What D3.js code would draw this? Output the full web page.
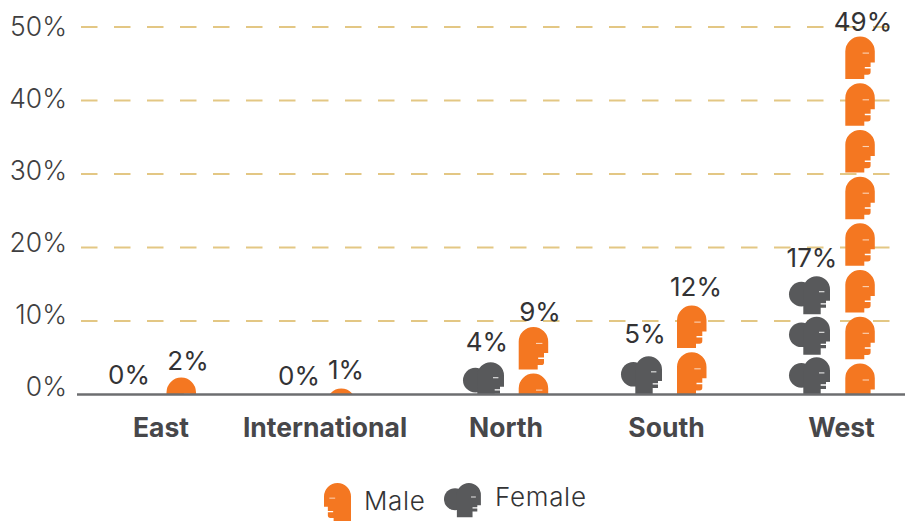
<!DOCTYPE html>
<html><head><meta charset="utf-8">
<script src="https://cdnjs.cloudflare.com/ajax/libs/d3/7.8.5/d3.min.js"></script>
<style>
html,body{margin:0;padding:0;background:#fff}
svg{display:block}
text{font-family:Inter,sans-serif}
</style></head><body>
<script>
const regions = ["East","International","North","South","West"];
const maleValues = [2.3,0.8,9.2,12.1,48.7];
const femaleValues = [0,0,4.4,5.2,16.1];
const maleLabels = ["2%","1%","9%","12%","49%"];
const femaleLabels = ["0%","0%","4%","5%","17%"];
const yTicks = [0,10,20,30,40,50];
const legendNames = ["Male","Female"];

const W=911,H=521;
const ORANGE="#f47721",GREY="#58595b",GOLD="#e3c784",AXIS="#6d6e70",INK="#333335";
const svg=d3.select("body").append("svg").attr("width",W).attr("height",H);
const y=d3.scaleLinear().domain([0,50]).range([394.5,27]);
const yLabel=d3.scaleLinear().domain([0,50]).range([387,27.5]);
const xMale=d3.scaleOrdinal().domain(regions).range([166.5,326.5,518.7,677,845.3]);
const xFemale=d3.scaleOrdinal().domain(regions).range([109,279,463,621,789]);
const xCat=d3.scaleOrdinal().domain(regions).range([160.5,324.5,505.5,666,841]);

const malePath="M0,42.5V14.75A14.75,14.75 0 0 1 29.5,14.75V26H25.3V30.5H19.5V32H25.3V35.5Q25.3,38.2 22.5,38.2H19V42.5Z";
const femaleBun=d3.arc()({innerRadius:0,outerRadius:12.3,startAngle:0,endAngle:2*Math.PI});
const femalePath="M14.3,38V13.3A13.35,13.3 0 0 1 41,13.3V24.7H37V27H31.7V28.3H37V31.6H31.7V38Z";
const icons={
 male:{w:29.5,h:42.5,pitch:46.7,eye:[17.3,16,6.4,1.1]},
 female:{w:41,h:38,pitch:40.6,eye:[30,15,5.4,1.1]}
};
function drawIcon(g,kind){
 if(kind==="male"){
  g.append("path").attr("d",malePath).attr("fill",ORANGE);
 }else{
  g.append("path").attr("d",femaleBun).attr("transform","translate(12.3,18)").attr("fill",GREY);
  g.append("path").attr("d",femalePath).attr("fill",GREY);
 }
 const e=icons[kind].eye;
 g.append("rect").attr("x",e[0]).attr("y",e[1]).attr("width",e[2]).attr("height",e[3])
  .attr("fill",kind==="male"?"#fbd3b5":"#e6e6e6");
}

svg.append("g").selectAll("line").data(yTicks.filter(d=>d>0)).join("line")
 .attr("x1",81).attr("x2",905).attr("y1",d=>y(d)).attr("y2",d=>y(d))
 .attr("stroke",GOLD).attr("stroke-width",2).attr("stroke-dasharray","16.5 16.5");

const ya=svg.append("g").attr("transform","translate(67,0)")
 .call(d3.axisLeft(yLabel).tickValues(yTicks).tickSize(0).tickPadding(0).tickFormat(d=>d+"%"));
ya.select(".domain").remove();
ya.selectAll("text").attr("font-size",26.5).attr("font-weight",300).attr("fill","#3f3f41").style("font-family","Inter,sans-serif");

const defs=svg.append("defs");
function column(kind,values,xs){
 const ic=icons[kind];
 regions.forEach((r,i)=>{
  const v=values[i]; if(!v) return;
  const top=y(v),base=y(0),id=`clip-${kind}-${i}`;
  defs.append("clipPath").attr("id",id).append("rect")
   .attr("x",xs(r)-2).attr("y",top-1).attr("width",ic.w+4).attr("height",base-top+1);
  const g=svg.append("g").attr("clip-path",`url(#${id})`);
  d3.range(Math.ceil((base-top)/ic.pitch)).forEach(k=>{
   drawIcon(g.append("g").attr("transform",`translate(${xs(r)},${top+k*ic.pitch})`),kind);
  });
 });
}
column("female",femaleValues,xFemale);
column("male",maleValues,xMale);

svg.append("line").attr("x1",77).attr("x2",905).attr("y1",y(0)).attr("y2",y(0))
 .attr("stroke",AXIS).attr("stroke-width",2.6);

const maleLift=[8,10,5.5,10,6];
const femaleLift=[10.5,9.5,11.5,13.5,9.5];
const labelCx={male:[188,346,540,696,863],female:[129,299,487,645,812]};
function labels(kind,values,texts,lift){
 svg.append("g").selectAll("text").data(regions).join("text")
  .attr("x",(d,i)=>labelCx[kind][i])
  .attr("y",(d,i)=>y(values[i])-lift[i])
  .attr("text-anchor","middle").attr("font-size",26).attr("fill",INK)
  .text((d,i)=>texts[i]);
}
labels("male",maleValues,maleLabels,maleLift);
labels("female",femaleValues,femaleLabels,femaleLift);

const xa=svg.append("g").attr("transform","translate(0,437)")
 .call(d3.axisBottom(xCat).tickSize(0).tickPadding(0));
xa.select(".domain").remove();
xa.selectAll("text").attr("dy",0).attr("y",0).attr("font-size",26.5).attr("font-weight",700)
 .attr("fill","#47474a").style("font-family","Inter,sans-serif");

const lm=svg.append("g").attr("transform","translate(351,483) scale(-0.915,0.915)");
drawIcon(lm,"male");
const lf=svg.append("g").attr("transform","translate(444,483) scale(0.9)");
drawIcon(lf,"female");
svg.append("text").attr("x",364).attr("y",510).attr("font-size",26).attr("font-weight",300).attr("letter-spacing",0.7).attr("fill",INK).text(legendNames[0]);
svg.append("text").attr("x",495).attr("y",506).attr("font-size",26).attr("font-weight",300).attr("letter-spacing",0.7).attr("fill",INK).text(legendNames[1]);
</script>
</body></html>
